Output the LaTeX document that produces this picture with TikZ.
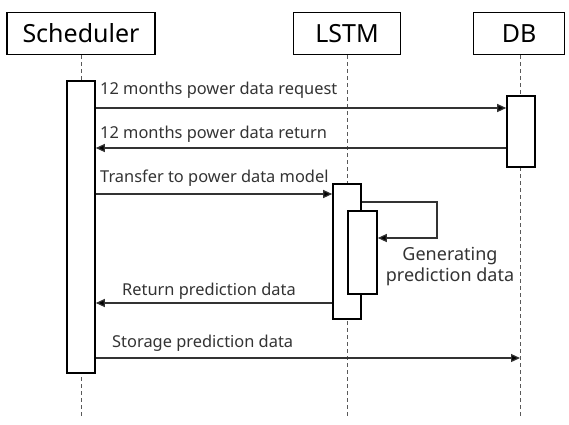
\documentclass[tikz,border=0pt]{standalone}
\usepackage{fontspec}
\setmainfont{Noto Sans}
\usetikzlibrary{arrows.meta}
\begin{document}
\begin{tikzpicture}[x=1pt,y=-1pt,
  head/.style={draw, line width=1.6pt, minimum height=42pt, inner sep=0pt, font=\fontsize{25}{28}\selectfont},
  act/.style={draw, line width=1.6pt, fill=white, inner sep=0pt},
  life/.style={gray!70!black, line width=1pt, dash pattern=on 4pt off 3pt},
  msg/.style={line width=1.2pt, draw=gray!40!black, -{Triangle[length=9pt,width=8pt,fill=black]}},
  lbl/.style={font=\fontsize{16.4}{18}\selectfont, text=black!80, anchor=base west, inner sep=0pt}
]
\useasboundingbox (0,0) rectangle (569,424);
% heads
\node[head, minimum width=148pt] (sch) at (81,33.5) {Scheduler};
\node[head, minimum width=107pt] (lstm) at (347,33.5) {LSTM};
\node[head, minimum width=91pt] (db) at (519,33.5) {DB};
% lifeline ends
\coordinate (schE) at (81,417);
\coordinate (lstmE) at (347,417);
\coordinate (dbE) at (520,417);
\draw[life] (sch.south) -- (schE);
\draw[life] (lstm.south) -- (lstmE);
\draw[life] (db.south -| dbE) -- (dbE);
% activations
\node[act, minimum width=28pt, minimum height=292pt] (a1) at (81,227) {};
\node[act, minimum width=28pt, minimum height=71pt] (dbA) at (521,131.5) {};
\node[act, minimum width=28pt, minimum height=135pt] (lA) at (347,251.5) {};
\node[act, minimum width=29pt, minimum height=83pt] (inA) at (362.5,252.5) {};
% messages
\draw[msg] (a1.east |- 0,108) -- (dbA.west |- 0,108);
\node[lbl] (t1) at (100,94) {12 months power data request};
\draw[msg] (dbA.west |- 0,148) -- (a1.east |- 0,148);
\node[lbl] (t2) at (100,138) {12 months power data return};
\draw[msg] (a1.east |- 0,194) -- (lA.west |- 0,194);
\node[lbl] (t3) at (100,182) {Transfer to power data model};
\coordinate (c1) at (437,202);
\coordinate (c2) at (437,238);
\draw[msg] (lA.east |- c1) -- (c1) -- (c2) -- (inA.east |- c2);
\node[font=\fontsize{18}{21}\selectfont, text=black!80, align=center, inner sep=0pt] (t4) at (450,267) {Generating\\prediction data};
\draw[msg] (lA.west |- 0,303) -- (a1.east |- 0,303);
\node[lbl] (t5) at (122,295) {Return prediction data};
\draw[msg] (a1.east |- 0,358) -- (dbE |- 0,358);
\node[lbl] (t6) at (112,347) {Storage prediction data};
\end{tikzpicture}
\end{document}
